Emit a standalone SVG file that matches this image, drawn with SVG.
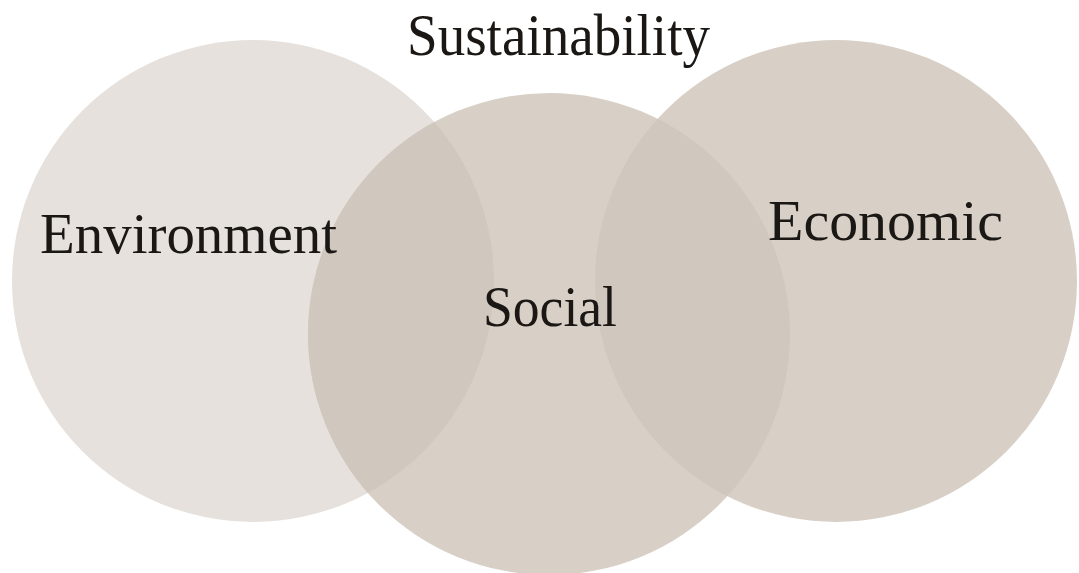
<svg xmlns="http://www.w3.org/2000/svg" width="1079" height="573" viewBox="0 0 1079 573">
<style>
.lbl{font-family:"Liberation Serif","DejaVu Serif",serif;fill:#1a1714;font-weight:normal}
</style>
<defs>
<clipPath id="clipEnv"><circle cx="253" cy="281" r="241"/></clipPath>
<clipPath id="clipEco"><circle cx="836" cy="281" r="241"/></clipPath>
</defs>
<rect width="1079" height="573" fill="#ffffff"/>
<g id="environment">
<circle cx="253" cy="281" r="241" fill="#e6e1dc"/>
</g>
<g id="economic">
<circle cx="836" cy="281" r="241" fill="#d8d0c7"/>
</g>
<g id="social">
<circle cx="549" cy="334" r="241" fill="#d8d0c7"/>
<circle cx="549" cy="334" r="241" fill="#d0c7be" clip-path="url(#clipEnv)"/>
<circle cx="549" cy="334" r="241" fill="#d0c7be" clip-path="url(#clipEco)"/>
</g>
<g id="labels">
<text class="lbl" x="407" y="55" font-size="60" textLength="303" lengthAdjust="spacingAndGlyphs">Sustainability</text>
<text class="lbl" x="40" y="253" font-size="57" textLength="297" lengthAdjust="spacingAndGlyphs">Environment</text>
<text class="lbl" x="483" y="326" font-size="56" textLength="134" lengthAdjust="spacingAndGlyphs">Social</text>
<text class="lbl" x="768" y="240" font-size="57" textLength="235" lengthAdjust="spacingAndGlyphs">Economic</text>
</g>
<g id="connectors"></g>
</svg>
